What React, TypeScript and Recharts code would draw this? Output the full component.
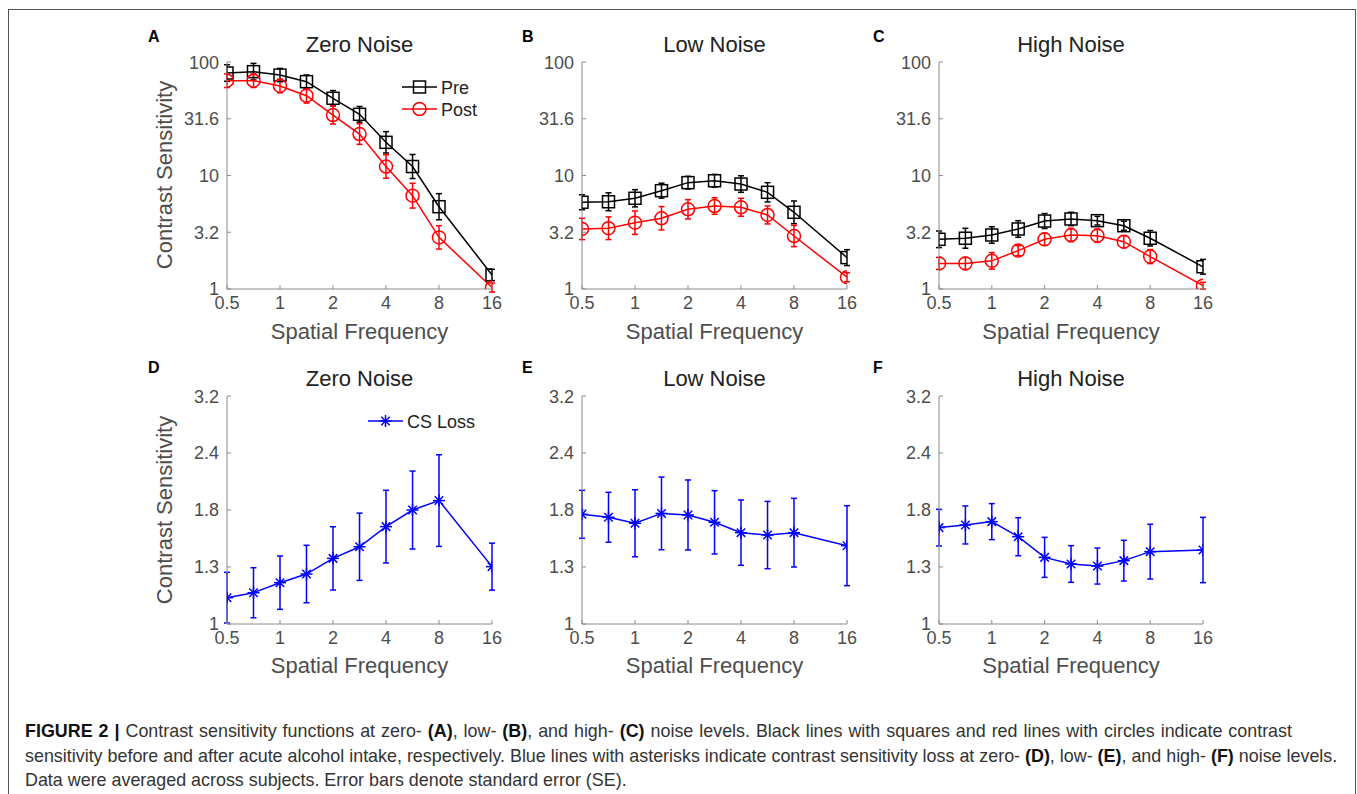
import { ErrorBar, Line, LineChart, XAxis, YAxis } from 'recharts';

// spatial frequencies (c/deg)
const freqs = [0.5, 0.707, 1, 1.414, 2, 2.83, 4, 5.66, 8, 16];
const freqTicks = [0.5, 1, 2, 4, 8, 16];

// top row: contrast sensitivity, SE in log10 units
const csTicks = [1, 3.162, 10, 31.62, 100];
const csTickLabels = ['1', '3.2', '10', '31.6', '100'];

const zeroPre = [80, 82.2, 76.7, 67.1, 47.9, 34.6, 19.6, 12.0, 5.31, 1.33];
const zeroPreSE = [0.073, 0.073, 0.059, 0.059, 0.068, 0.069, 0.094, 0.106, 0.115, 0.05];
const zeroPost = [68.4, 68.4, 61.5, 50.5, 34.1, 23.2, 12.0, 6.64, 2.85, 1.03];
const zeroPostSE = [0.06, 0.06, 0.06, 0.065, 0.079, 0.091, 0.103, 0.109, 0.103, 0.04];

const lowPre = [5.81, 5.87, 6.3, 7.35, 8.65, 8.99, 8.41, 7.11, 4.74, 1.89];
const lowPreSE = [0.066, 0.079, 0.076, 0.066, 0.056, 0.056, 0.073, 0.085, 0.1, 0.07];
const lowPost = [3.38, 3.43, 3.84, 4.2, 5.04, 5.38, 5.25, 4.49, 2.93, 1.27];
const lowPostSE = [0.094, 0.1, 0.103, 0.103, 0.085, 0.073, 0.079, 0.079, 0.094, 0.04];

const highPre = [2.74, 2.8, 2.99, 3.38, 3.97, 4.14, 4.0, 3.61, 2.8, 1.57];
const highPreSE = [0.073, 0.088, 0.073, 0.073, 0.066, 0.059, 0.038, 0.04, 0.068, 0.065];
const highPost = [1.68, 1.68, 1.77, 2.18, 2.74, 2.99, 2.95, 2.61, 1.93, 1.07];
const highPostSE = [0.053, 0.053, 0.073, 0.044, 0.053, 0.059, 0.059, 0.053, 0.062, 0.03];

// bottom row: CS loss
const lossTicks = [1, 1.334, 1.778, 2.371, 3.162];
const lossTickLabels = ['1', '1.3', '1.8', '2.4', '3.2'];

const zeroLoss = [1.142, 1.171, 1.232, 1.287, 1.393, 1.477, 1.635, 1.778, 1.865, 1.336];
const zeroLossSE = [0.0556, 0.0548, 0.0585, 0.063, 0.0694, 0.0738, 0.0797, 0.0855, 0.1005, 0.0515];
const lowLoss = [1.74, 1.714, 1.663, 1.748, 1.734, 1.671, 1.586, 1.567, 1.586, 1.485];
const lowLossSE = [0.0526, 0.0548, 0.0735, 0.0797, 0.0768, 0.0694, 0.0716, 0.0738, 0.0753, 0.0877];
const highLoss = [1.627, 1.649, 1.677, 1.554, 1.4, 1.354, 1.34, 1.377, 1.441, 1.453];
const highLossSE = [0.0402, 0.0417, 0.0395, 0.0417, 0.0439, 0.0402, 0.0395, 0.0446, 0.06, 0.0716];

const FONT = '"Liberation Sans", Arial, Helvetica, sans-serif';
const AXIS_GRAY = '#8a8a8a';
const TICK_GRAY = '#4d4d4d';

// symmetric log-unit SE -> asymmetric linear [down, up]
const logErr = (v: number, se: number) => [v - v / Math.pow(10, se), v * Math.pow(10, se) - v];

type Series = { key: string; name: string; values: number[]; se: number[]; color: string; marker: 'square' | 'circle' | 'star' };

function Marker({ cx, cy, type, color }: { cx: number; cy: number; type: string; color: string }) {
  if (cx == null || cy == null) return null;
  if (type === 'square') {
    return <rect x={cx - 6} y={cy - 6} width={12} height={12} fill="none" stroke={color} strokeWidth={1.5} />;
  }
  if (type === 'circle') {
    return <circle cx={cx} cy={cy} r={6.5} fill="none" stroke={color} strokeWidth={1.5} />;
  }
  const r = 6;
  const d = r * 0.707;
  return (
    <g stroke={color} strokeWidth={1.5}>
      <line x1={cx - r} y1={cy} x2={cx + r} y2={cy} />
      <line x1={cx} y1={cy - r} x2={cx} y2={cy + r} />
      <line x1={cx - d} y1={cy - d} x2={cx + d} y2={cy + d} />
      <line x1={cx - d} y1={cy + d} x2={cx + d} y2={cy - d} />
    </g>
  );
}

function LegendBox({ series }: { series: Series[] }) {
  return (
    <svg width={130} height={series.length * 22 + 2} style={{ overflow: 'visible', display: 'block' }}>
      {series.map((s, i) => {
        const y = 11 + i * 22;
        return (
          <g key={s.key}>
            <line x1={0} y1={y} x2={35} y2={y} stroke={s.color} strokeWidth={1.5} />
            <Marker cx={17.5} cy={y} type={s.marker} color={s.color} />
            <text x={39} y={y + 6.5} fontSize={18} fill="#222" fontFamily={FONT}>
              {s.name}
            </text>
          </g>
        );
      })}
    </svg>
  );
}

interface PanelProps {
  plot: [number, number, number, number];
  series: Series[];
  yDomain: [number, number];
  yTicks: number[];
  yLabels: string[];
  legendLeft?: number;
}

const L = 70;
const T = 10;
const R = 20;
const B = 40;

function Panel({ plot, series, yDomain, yTicks, yLabels, legendLeft }: PanelProps) {
  const [x0, y0, x1, y1] = plot;
  const pw = x1 - x0;
  const ph = y1 - y0;
  const data = freqs.map((f, i) => {
    const row: Record<string, any> = { f };
    series.forEach((s) => {
      row[s.key] = s.values[i];
      row[s.key + 'Err'] = logErr(s.values[i], s.se[i]);
    });
    return row;
  });
  const fmt = (v: number) => {
    const idx = yTicks.findIndex((t) => Math.abs(t - v) < 1e-6);
    return idx >= 0 ? yLabels[idx] : String(v);
  };
  return (
    <div style={{ position: 'absolute', left: x0 - L, top: y0 - T }}>
      <LineChart width={pw + L + R} height={ph + T + B} data={data} margin={{ top: T, right: R, bottom: B - 30, left: L - 60 }}>
        <XAxis
          dataKey="f"
          type="number"
          scale="log"
          domain={[0.5, 16]}
          ticks={freqTicks}
          allowDataOverflow
          height={30}
          stroke={AXIS_GRAY}
          tickSize={-4}
          tickMargin={11}
          tick={{ fill: TICK_GRAY, fontSize: 18, fontFamily: FONT }}
        />
        <XAxis
          xAxisId="top"
          orientation="top"
          type="number"
          scale="log"
          domain={[0.5, 16]}
          ticks={freqTicks}
          allowDataOverflow
          height={0}
          stroke={AXIS_GRAY}
          tickSize={-4}
          tick={false}
        />
        <YAxis
          type="number"
          scale="log"
          domain={yDomain}
          ticks={yTicks}
          allowDataOverflow
          width={60}
          stroke={AXIS_GRAY}
          tickSize={-4}
          tickMargin={12}
          tickFormatter={fmt}
          tick={{ fill: TICK_GRAY, fontSize: 18, fontFamily: FONT }}
        />
        <YAxis
          yAxisId="right"
          orientation="right"
          type="number"
          scale="log"
          domain={yDomain}
          ticks={yTicks}
          allowDataOverflow
          width={0}
          stroke={AXIS_GRAY}
          tickSize={-4}
          tick={false}
        />
        {series.map((s) => (
          <Line
            key={s.key}
            dataKey={s.key}
            name={s.name}
            stroke={s.color}
            strokeWidth={1.5}
            isAnimationActive={false}
            dot={(p: any) => <Marker key={p.index} cx={p.cx} cy={p.cy} type={s.marker} color={s.color} />}
            activeDot={false}
          >
            <ErrorBar dataKey={s.key + 'Err'} direction="y" width={3} stroke={s.color} strokeWidth={1.5} />
          </Line>
        ))}
      </LineChart>
      {legendLeft != null && (
        <div style={{ position: 'absolute', left: legendLeft, top: 24 }}>
          <LegendBox series={series} />
        </div>
      )}
    </div>
  );
}

const prePost = (pre: number[], preSE: number[], post: number[], postSE: number[]): Series[] => [
  { key: 'pre', name: 'Pre', values: pre, se: preSE, color: '#000000', marker: 'square' },
  { key: 'post', name: 'Post', values: post, se: postSE, color: '#ff0000', marker: 'circle' },
];
const loss = (v: number[], se: number[]): Series[] => [
  { key: 'loss', name: 'CS Loss', values: v, se, color: '#0000ff', marker: 'star' },
];

const colX = [[227, 492], [582, 847], [939, 1203]];
const rowY = [[62, 289], [396, 624]];

const titles = ['Zero Noise', 'Low Noise', 'High Noise'];
const letters = [['A', 'B', 'C'], ['D', 'E', 'F']];
const letterX = [148, 522, 873];
const letterY = [37, 368];
const titleY = [45, 379];
const xLabelY = [332, 666];

const text = (left: number, top: number, content: string, style: React.CSSProperties = {}, rotate = false) => (
  <div
    key={content + left + top}
    style={{
      position: 'absolute',
      left,
      top,
      transform: rotate ? 'translate(-50%, -50%) rotate(-90deg)' : 'translate(-50%, -50%)',
      whiteSpace: 'nowrap',
      lineHeight: 1,
      fontFamily: FONT,
      ...style,
    }}
  >
    {content}
  </div>
);

const B_ = ({ children }: { children: string }) => <b style={{ color: '#111' }}>{children}</b>;

export default function App() {
  const topSeries = [
    prePost(zeroPre, zeroPreSE, zeroPost, zeroPostSE),
    prePost(lowPre, lowPreSE, lowPost, lowPostSE),
    prePost(highPre, highPreSE, highPost, highPostSE),
  ];
  const bottomSeries = [loss(zeroLoss, zeroLossSE), loss(lowLoss, lowLossSE), loss(highLoss, highLossSE)];

  return (
    <div style={{ position: 'absolute', left: 0, top: 0, width: 1357, height: 794, background: '#fff', overflow: 'hidden', fontFamily: FONT }}>
      <div style={{ position: 'absolute', left: 8, top: 9, width: 1348, height: 820, border: '1px solid #555', boxSizing: 'border-box' }} />

      {[0, 1, 2].map((c) => (
        <Panel
          key={'top' + c}
          plot={[colX[c][0], rowY[0][0], colX[c][1], rowY[0][1]]}
          series={topSeries[c]}
          yDomain={[1, 100]}
          yTicks={csTicks}
          yLabels={csTickLabels}
          legendLeft={c === 0 ? 245 : undefined}
        />
      ))}
      {[0, 1, 2].map((c) => (
        <Panel
          key={'bot' + c}
          plot={[colX[c][0], rowY[1][0], colX[c][1], rowY[1][1]]}
          series={bottomSeries[c]}
          yDomain={[1, 3.1623]}
          yTicks={lossTicks}
          yLabels={lossTickLabels}
          legendLeft={c === 0 ? 211 : undefined}
        />
      ))}

      {[0, 1].map((r) =>
        [0, 1, 2].map((c) => {
          const cx = (colX[c][0] + colX[c][1]) / 2;
          return [
            <div
              key={'L' + r + c}
              style={{ position: 'absolute', left: letterX[c], top: letterY[r], transform: 'translateY(-50%)', fontWeight: 'bold', fontSize: 16, lineHeight: 1, color: '#000' }}
            >
              {letters[r][c]}
            </div>,
            text(cx, titleY[r], titles[c], { fontSize: 22, color: '#222' }),
            text(cx, xLabelY[r], 'Spatial Frequency', { fontSize: 22, color: TICK_GRAY }),
          ];
        }),
      )}
      {text(165, 175, 'Contrast Sensitivity', { fontSize: 22, color: TICK_GRAY }, true)}
      {text(165, 510, 'Contrast Sensitivity', { fontSize: 22, color: TICK_GRAY }, true)}

      <div style={{ position: 'absolute', left: 25, top: 719, fontSize: 17.9, lineHeight: '24.5px', color: '#333', whiteSpace: 'nowrap' }}>
        <div style={{ wordSpacing: '1px' }}>
          <B_>FIGURE 2 |</B_> Contrast sensitivity functions at zero- <B_>(A)</B_>, low- <B_>(B)</B_>, and high- <B_>(C)</B_> noise levels. Black lines with squares and red lines with circles indicate contrast
        </div>
        <div>
          sensitivity before and after acute alcohol intake, respectively. Blue lines with asterisks indicate contrast sensitivity loss at zero- <B_>(D)</B_>, low- <B_>(E)</B_>, and high- <B_>(F)</B_> noise levels.
        </div>
        <div>Data were averaged across subjects. Error bars denote standard error (SE).</div>
      </div>
    </div>
  );
}
